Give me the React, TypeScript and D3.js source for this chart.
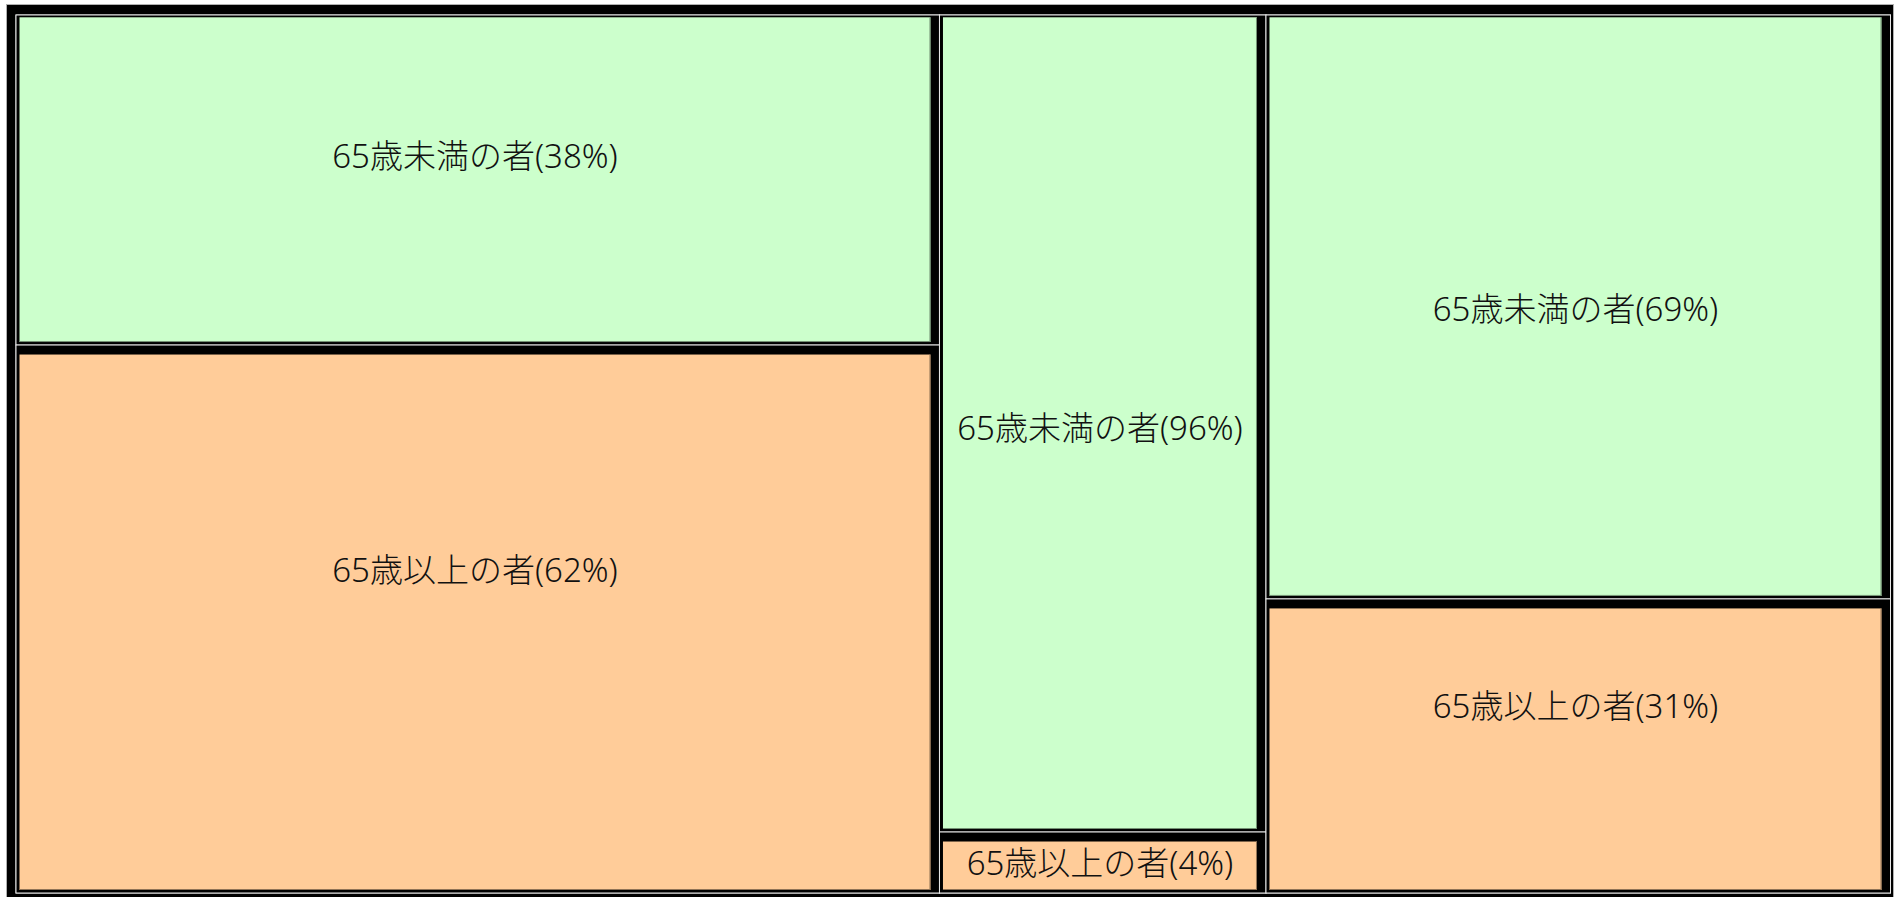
import React from 'react';
import * as d3 from 'd3';

// ---- data ----
const groups = ['区分1', '区分2', '区分3'];
const ageCategories = ['65歳未満の者', '65歳以上の者'];
const leafValues = [
  [185.2, 307.5],
  [162.1, 12.1],
  [221.6, 111.6],
];
const leafPercents = [
  [38, 62],
  [96, 4],
  [69, 31],
];

// ---- styles / layout ----
const categoryColors = ['#CCFFCC', '#FFCC99'];
const labelAnchor = [
  [0.425, 0.41],
  [0.505, 0.5],
  [0.503, 0.364],
];
const W = 1899;
const H = 897;
const outer = { x: 6.5, y: 4.5, w: 1887, h: 900 };
const area = { x: 16, y: 15, w: 1874.5, h: 878 };
const FONT = '"Noto Sans", "Noto Sans CJK JP", sans-serif';

type Leaf = { name: string; gi: number; ci: number; value: number };

export default function App() {
  const data = {
    name: 'root',
    children: groups.map((g, gi) => ({
      name: g,
      children: ageCategories.map((c, ci) => ({ name: c, gi, ci, value: leafValues[gi][ci] })),
    })),
  };
  const root = d3.hierarchy<any>(data).sum((d: any) => (d.children ? 0 : d.value));
  d3.treemap<any>().tile(d3.treemapSliceDice).size([area.w, area.h]).round(false)(root);
  const rnode = root as d3.HierarchyRectangularNode<any>;
  const groupNodes = rnode.children || [];
  const leaves = rnode.leaves();

  return (
    <svg
      width={W}
      height={H}
      style={{ position: 'absolute', left: 0, top: 0, display: 'block' }}
    >
      <rect x={0} y={0} width={W} height={H} fill="#ffffff" />
      <rect
        x={outer.x}
        y={outer.y}
        width={outer.w}
        height={outer.h}
        fill="#000000"
        stroke="#b0b0b0"
        strokeWidth={1}
      />
      <g transform={`translate(${area.x},${area.y})`}>
        {groupNodes.map((g, i) => (
          <rect
            key={'g' + i}
            x={g.x0}
            y={g.y0}
            width={g.x1 - g.x0}
            height={g.y1 - g.y0}
            fill="#000"
            stroke="#e8e8e8"
            strokeWidth={1}
          />
        ))}
        {leaves.map((n, i) => {
          const d = n.data as Leaf;
          const first = n.parent && n.parent.children ? n.parent.children[0] === n : true;
          const fx0 = n.x0 + 3.5;
          const fx1 = n.x1 - 9;
          const fy0 = n.y0 + (first ? 2.3 : 9.5);
          const fy1 = n.y1 - 3;
          const col = categoryColors[d.ci];
          const dark = d3.color(col)!.darker(1.6).formatHex();
          const label = `${d.name}(${leafPercents[d.gi][d.ci]}%)`;
          const ly = n.y0 + (n.y1 - n.y0) * labelAnchor[d.gi][d.ci];
          return (
            <g key={'l' + i}>
              <rect
                x={n.x0}
                y={n.y0}
                width={n.x1 - n.x0}
                height={n.y1 - n.y0}
                fill="#000"
                stroke="#e8e8e8"
                strokeWidth={1}
              />
              <rect x={fx0} y={fy0} width={fx1 - fx0} height={fy1 - fy0} fill={col} />
              <line x1={fx0} x2={fx1} y1={fy1 - 0.5} y2={fy1 - 0.5} stroke={dark} strokeWidth={1} />
              <line x1={fx1 - 0.5} x2={fx1 - 0.5} y1={fy0} y2={fy1} stroke={dark} strokeWidth={1} />
              <text
                x={(fx0 + fx1) / 2}
                y={ly}
                textAnchor="middle"
                dominantBaseline="central"
                fontFamily={FONT}
                fontSize={33}
                fontWeight={300}
                fill="#111"
              >
                {label}
              </text>
            </g>
          );
        })}
      </g>
    </svg>
  );
}
